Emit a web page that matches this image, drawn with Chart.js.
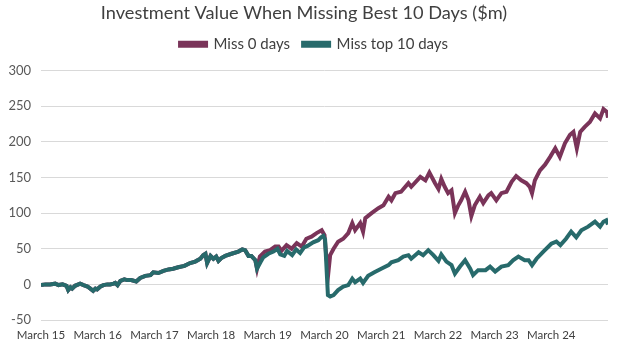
<!DOCTYPE html>
<html><head><meta charset="utf-8">
<script src="https://cdn.jsdelivr.net/npm/chart.js@4/dist/chart.umd.min.js"></script>
<style>html,body{margin:0;padding:0;background:#fff}#wrap{width:628px;height:356px}</style>
</head><body><div id="wrap"><canvas id="c" width="628" height="356"></canvas></div>
<script>
const chartTitle = 'Investment Value When Missing Best 10 Days ($m)';
const seriesNames = ['Miss 0 days', 'Miss top 10 days'];
const xTickLabels = ['March 15','March 16','March 17','March 18','March 19','March 20','March 21','March 22','March 23','March 24'];
const yTickValues = [-50, 0, 50, 100, 150, 200, 250, 300];

// years since March 2015; both series identical until Dec 2018
const sharedYears  = [0.00,0.08,0.16,0.25,0.31,0.38,0.45,0.48,0.52,0.55,0.60,0.66,0.69,0.75,0.82,0.87,0.92,0.96,0.99,1.05,1.10,1.17,1.22,1.28,1.31,1.35,1.40,1.47,1.52,1.59,1.68,1.75,1.84,1.93,1.98,2.07,2.16,2.25,2.33,2.42,2.53,2.63,2.72,2.81,2.86,2.90,2.93,2.99,3.04,3.09,3.13,3.18,3.25,3.36,3.48,3.55,3.60,3.66,3.71,3.78,3.81];
const sharedValues = [-1,0,0,1,-1,0,-2,-8,-4,-6,-2,0,1,-1,-3,-6,-9,-6,-7,-3,-1,0,0,1,2,-1,5,7,6,6,4,9,12,13,17,16,19,21,22,24,26,30,32,36,41,43,30,40,36,39,33,37,40,43,46,49,48,40,40,34,22];

const missZeroYears  = [3.86,3.95,4.04,4.13,4.19,4.24,4.33,4.42,4.51,4.60,4.68,4.77,4.86,4.95,5.00,5.03,5.07,5.10,5.16,5.24,5.33,5.42,5.49,5.54,5.63,5.68,5.72,5.83,5.95,6.04,6.13,6.18,6.25,6.35,6.48,6.53,6.69,6.78,6.85,6.95,7.01,7.06,7.12,7.18,7.24,7.30,7.36,7.41,7.48,7.54,7.59,7.65,7.74,7.80,7.89,7.94,8.03,8.12,8.21,8.30,8.38,8.47,8.56,8.62,8.66,8.71,8.80,8.89,8.98,9.07,9.15,9.24,9.33,9.39,9.45,9.51,9.59,9.68,9.77,9.86,9.92,9.98,10.00];
const missZeroValues = [39,46,48,53,53,47,55,50,58,53,64,67,72,76,69,41,18,41,50,60,64,72,86,76,86,74,93,100,107,111,123,118,128,130,142,137,151,146,157,142,134,148,137,128,132,100,111,118,130,118,96,111,123,114,125,128,118,128,130,144,152,146,142,137,128,146,160,168,179,191,179,198,210,214,191,214,221,228,240,233,246,242,234];

const missTenYears  = [3.87,3.92,4.01,4.10,4.17,4.22,4.29,4.34,4.43,4.50,4.57,4.64,4.70,4.80,4.89,4.94,4.98,5.01,5.03,5.06,5.10,5.16,5.24,5.33,5.42,5.49,5.54,5.63,5.68,5.77,5.88,6.00,6.13,6.18,6.30,6.39,6.48,6.53,6.66,6.74,6.83,6.92,7.01,7.06,7.15,7.24,7.30,7.39,7.48,7.57,7.62,7.71,7.84,7.92,8.01,8.12,8.24,8.33,8.42,8.53,8.60,8.66,8.74,8.86,9.00,9.09,9.16,9.26,9.35,9.44,9.53,9.65,9.77,9.86,9.92,9.97,10.00];
const missTenValues = [31,38,43,46,50,42,40,47,41,49,44,52,54,59,62,66,68,63,32,-15,-17,-15,-8,-3,-1,8,3,8,2,12,17,22,27,31,34,39,41,36,45,41,48,41,33,42,32,27,15,25,34,22,13,20,20,25,18,25,27,34,39,34,34,27,36,46,57,60,55,64,74,66,76,81,88,81,88,90,84];

const colors = ['#7a3459', '#276a6b'];

function toPoints(xs, ys) { return xs.map((x, i) => ({ x: x, y: ys[i] })); }

const missZeroData = toPoints(sharedYears, sharedValues).concat(toPoints(missZeroYears, missZeroValues));
const missTenData = toPoints(sharedYears, sharedValues).concat(toPoints(missTenYears, missTenValues));

const FONT = 'Lato, "Open Sans", sans-serif';

const legendShift = {
  id: 'legendShift',
  afterLayout(chart) {
    if (chart.legend) { chart.legend.left += 10; chart.legend.right += 10; }
  }
};

new Chart(document.getElementById('c'), {
  type: 'line',
  data: {
    datasets: [
      { label: seriesNames[0], data: missZeroData, borderColor: colors[0], backgroundColor: colors[0], borderWidth: 4, pointRadius: 0, tension: 0, order: 1 },
      { label: seriesNames[1], data: missTenData, borderColor: colors[1], backgroundColor: colors[1], borderWidth: 4, pointRadius: 0, tension: 0, order: 0 }
    ]
  },
  plugins: [legendShift],
  options: {
    responsive: false,
    animation: false,
    layout: { padding: { left: 0, right: 20, top: 0, bottom: 0 } },
    plugins: {
      title: { display: true, text: chartTitle, color: '#404040', font: { family: FONT, size: 18.2, weight: 'normal' }, padding: { top: 2, bottom: 0 } },
      subtitle: { display: true, text: '', weight: 500, font: { size: 1 }, padding: { top: 7.6, bottom: 0 } },
      legend: {
        display: true,
        labels: {
          color: '#404040', font: { family: FONT, size: 15 },
          boxWidth: 26, boxHeight: 3, padding: 13,
          sort: (a, b) => a.datasetIndex - b.datasetIndex
        }
      },
      tooltip: { enabled: false }
    },
    scales: {
      x: {
        type: 'linear', min: 0, max: 10,
        grid: { display: false, drawTicks: false },
        border: { display: false },
        afterFit: s => { s.height = 36; },
        afterBuildTicks: s => { s.ticks = xTickLabels.map((_, i) => ({ value: i })); },
        ticks: { autoSkip: false, maxRotation: 0, padding: 8, color: '#404040', font: { family: FONT, size: 11.5 },
          callback: v => xTickLabels[v] !== undefined ? xTickLabels[v] : '' }
      },
      y: {
        min: -50, max: 300,
        afterBuildTicks: s => { s.ticks = yTickValues.map(v => ({ value: v })); },
        afterFit: s => { s.width = 41; },
        grid: { color: '#d9d9d9', lineWidth: 1, drawTicks: false },
        border: { display: false },
        ticks: { padding: 10, color: '#595959', font: { family: FONT, size: 13 } }
      }
    }
  }
});
</script>
</body></html>
